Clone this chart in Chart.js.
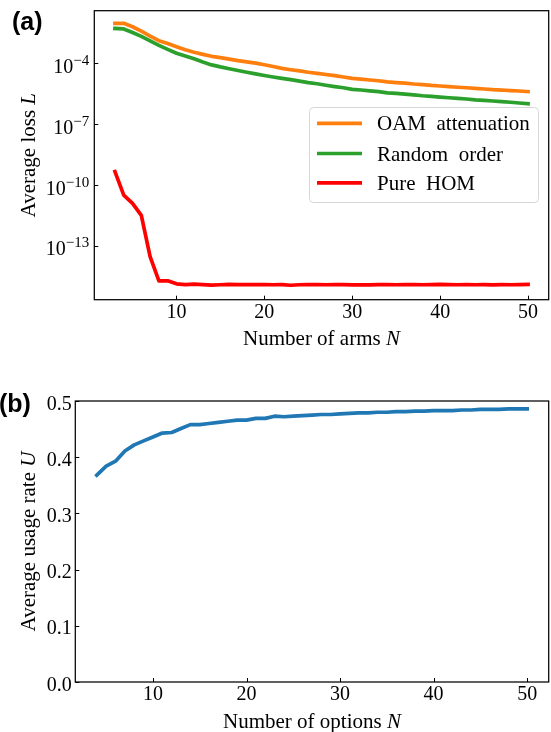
<!DOCTYPE html>
<html>
<head>
<meta charset="utf-8">
<script src="https://cdn.jsdelivr.net/npm/chart.js@4.4.0/dist/chart.umd.min.js"></script>
<style>
  html, body { margin: 0; padding: 0; background: #fff; }
  #wrap { position: relative; width: 551px; height: 732px; overflow: hidden; }
  .panel { position: absolute; left: 0; }
  #panelA { top: 0; }
  #panelB { top: 370px; }
</style>
</head>
<body>
<div id="wrap">
  <div class="panel" id="panelA"><canvas id="lossChart" width="551" height="350"></canvas></div>
  <div class="panel" id="panelB"><canvas id="usageChart" width="551" height="362"></canvas></div>
</div>
<script>
// ---- data ----
const nArms = [3, 4, 5, 6, 7, 8, 9, 10, 11, 12, 13, 14, 15, 16, 17, 18, 19, 20, 21, 22, 23, 24, 25, 26,
               27, 28, 29, 30, 31, 32, 33, 34, 35, 36, 37, 38, 39, 40, 41, 42, 43, 44, 45, 46, 47, 48, 49, 50];

const lossOAM = [9.3e-3, 9.3e-3, 6.3e-3, 3.8e-3, 2.2e-3, 1.3e-3, 9.3e-4, 6.5e-4, 4.6e-4, 3.5e-4, 2.75e-4, 2.2e-4,
                 1.9e-4, 1.6e-4, 1.35e-4, 1.17e-4, 1.02e-4, 8.5e-5, 6.9e-5, 5.6e-5, 4.8e-5, 4.2e-5, 3.6e-5, 3.2e-5,
                 2.8e-5, 2.45e-5, 2.1e-5, 1.8e-5, 1.66e-5, 1.5e-5, 1.38e-5, 1.2e-5, 1.12e-5, 1.05e-5, 9.5e-6, 8.9e-6,
                 8.1e-6, 7.6e-6, 7.1e-6, 6.6e-6, 6.2e-6, 5.8e-6, 5.4e-6, 5.0e-6, 4.8e-6, 4.5e-6, 4.3e-6, 4.0e-6];

const lossRandom = [5.2e-3, 4.9e-3, 3.3e-3, 2.1e-3, 1.26e-3, 7.6e-4, 4.8e-4, 3.1e-4, 2.3e-4, 1.66e-4, 1.15e-4, 8.3e-5,
                    6.6e-5, 5.4e-5, 4.4e-5, 3.6e-5, 3.0e-5, 2.5e-5, 2.1e-5, 1.8e-5, 1.55e-5, 1.32e-5, 1.12e-5, 9.8e-6,
                    8.3e-6, 7.1e-6, 6.2e-6, 5.2e-6, 4.8e-6, 4.4e-6, 4.0e-6, 3.5e-6, 3.3e-6, 3.0e-6, 2.75e-6, 2.5e-6,
                    2.35e-6, 2.15e-6, 2.0e-6, 1.86e-6, 1.74e-6, 1.58e-6, 1.48e-6, 1.38e-6, 1.29e-6, 1.2e-6, 1.1e-6, 1.02e-6];

const lossPureHOM = [4.6e-10, 3.2e-11, 1.26e-11, 3.2e-12, 3.0e-14, 1.9e-15, 1.9e-15, 1.35e-15, 1.25e-15, 1.3e-15, 1.25e-15, 1.18e-15,
                     1.22e-15, 1.26e-15, 1.25e-15, 1.23e-15, 1.24e-15, 1.24e-15, 1.22e-15, 1.24e-15, 1.15e-15, 1.22e-15, 1.25e-15, 1.24e-15,
                     1.22e-15, 1.24e-15, 1.23e-15, 1.21e-15, 1.22e-15, 1.2e-15, 1.23e-15, 1.24e-15, 1.22e-15, 1.24e-15, 1.25e-15, 1.22e-15,
                     1.24e-15, 1.27e-15, 1.25e-15, 1.22e-15, 1.24e-15, 1.22e-15, 1.23e-15, 1.2e-15, 1.24e-15, 1.22e-15, 1.24e-15, 1.26e-15];

const lossLabels = ['OAM attenuation', 'Random order', 'Pure HOM'];
const lossColors = ['#ff7f0e', '#2ca02c', '#ff0000'];

const nOptions = [4, 5, 6, 7, 8, 9, 10, 11, 12, 13, 14, 15, 16, 17, 18, 19, 20, 21, 22, 23, 24, 25, 26, 27,
                  28, 29, 30, 31, 32, 33, 34, 35, 36, 37, 38, 39, 40, 41, 42, 43, 44, 45, 46, 47, 48, 49, 50];

const usageRate = [0.368, 0.384, 0.393, 0.411, 0.422, 0.429, 0.436, 0.443, 0.444, 0.451, 0.458, 0.458,
                   0.460, 0.462, 0.464, 0.466, 0.466, 0.469, 0.469, 0.473, 0.472, 0.473, 0.474, 0.475,
                   0.476, 0.476, 0.477, 0.478, 0.479, 0.479, 0.480, 0.480, 0.481, 0.481, 0.482, 0.482,
                   0.483, 0.483, 0.483, 0.484, 0.484, 0.485, 0.485, 0.485, 0.486, 0.486, 0.486];

const xTickVals = [10, 20, 30, 40, 50];
const lossTickExp = [-4, -7, -10, -13];
const usageTickVals = [0.0, 0.1, 0.2, 0.3, 0.4, 0.5];

const SERIF = "'Liberation Serif', 'Times New Roman', serif";
const SANS = "'Liberation Sans', Arial, sans-serif";

// ---- drawing helpers (text, frame, inward ticks) ----
function drawFrame(chart, xTicks, yPixels) {
    const ctx = chart.ctx, a = chart.chartArea, xs = chart.scales.x;
    ctx.save();
    ctx.strokeStyle = '#000';
    ctx.lineWidth = 1.25;
    ctx.strokeRect(a.left, a.top, a.right - a.left, a.bottom - a.top);
    ctx.lineWidth = 1;
    ctx.beginPath();
    xTicks.forEach(function (v) {
        const px = Math.round(xs.getPixelForValue(v)) + 0.5;
        ctx.moveTo(px, a.bottom);
        ctx.lineTo(px, a.bottom - 4);
    });
    yPixels.forEach(function (py) {
        py = Math.round(py) + 0.5;
        ctx.moveTo(a.left, py);
        ctx.lineTo(a.left + 4, py);
    });
    ctx.stroke();
    ctx.restore();
}

function drawXLabels(chart, xTicks, title) {
    const ctx = chart.ctx, a = chart.chartArea, xs = chart.scales.x;
    ctx.save();
    ctx.fillStyle = '#000';
    ctx.font = '20px ' + SERIF;
    ctx.textAlign = 'center';
    ctx.textBaseline = 'alphabetic';
    xTicks.forEach(function (v) {
        ctx.fillText(String(v), xs.getPixelForValue(v), a.bottom + 17.8);
    });
    drawMixed(ctx, title, (a.left + a.right) / 2, a.bottom + 45.5);
    ctx.restore();
}

// parts: [[text, italic], ...] centred on x
function drawMixed(ctx, parts, cx, baseline) {
    let total = 0;
    const widths = parts.map(function (p) {
        ctx.font = (p[1] ? 'italic ' : '') + '21px ' + SERIF;
        const w = ctx.measureText(p[0]).width;
        total += w;
        return w;
    });
    let x = cx - total / 2;
    ctx.textAlign = 'left';
    parts.forEach(function (p, i) {
        ctx.font = (p[1] ? 'italic ' : '') + '21px ' + SERIF;
        ctx.fillText(p[0], x, baseline);
        x += widths[i];
    });
}

function drawYTitle(chart, parts, baseX) {
    const ctx = chart.ctx, a = chart.chartArea;
    ctx.save();
    ctx.fillStyle = '#000';
    ctx.translate(baseX, (a.top + a.bottom) / 2);
    ctx.rotate(-Math.PI / 2);
    drawMixed(ctx, parts, 0, 0);
    ctx.restore();
}

const lossPlugin = {
    id: 'lossDecor',
    afterDraw: function (chart) {
        const ctx = chart.ctx, a = chart.chartArea, ys = chart.scales.y;
        const yPix = lossTickExp.map(function (e) { return ys.getPixelForValue(Math.pow(10, e)); });
        drawFrame(chart, xTickVals, yPix);
        drawXLabels(chart, xTickVals, [['Number of arms ', false], ['N', true]]);

        // log tick labels 10^e
        ctx.save();
        ctx.fillStyle = '#000';
        ctx.textAlign = 'left';
        lossTickExp.forEach(function (e, i) {
            const sup = '\u2212' + Math.abs(e);
            ctx.font = '15px ' + SERIF;
            const wSup = ctx.measureText(sup).width;
            ctx.font = '20px ' + SERIF;
            const wBase = ctx.measureText('10').width;
            const right = a.left - 5;
            ctx.fillText('10', right - wSup - wBase, yPix[i] + 9.5);
            ctx.font = '15px ' + SERIF;
            ctx.fillText(sup, right - wSup, yPix[i] + 1.5);
        });
        ctx.restore();

        drawYTitle(chart, [['Average loss ', false], ['L', true]], 35);

        // legend box in the upper right
        ctx.save();
        ctx.beginPath();
        ctx.roundRect(309.5, 107.5, 229, 95, 4);
        ctx.fillStyle = 'rgba(255,255,255,0.8)';
        ctx.fill();
        ctx.strokeStyle = '#d6d6d6';
        ctx.lineWidth = 1;
        ctx.stroke();
        const rows = [123.3, 153.5, 182.8];
        chart.data.datasets.forEach(function (ds, i) {
            ctx.strokeStyle = ds.borderColor;
            ctx.lineWidth = 3.7;
            ctx.beginPath();
            ctx.moveTo(317, rows[i]);
            ctx.lineTo(362, rows[i]);
            ctx.stroke();
            ctx.fillStyle = '#000';
            ctx.font = '21px ' + SERIF;
            ctx.textAlign = 'left';
            ctx.fillText(ds.label.replace(' ', '\u2002'), 377, rows[i] + 7);
        });
        ctx.restore();

        ctx.save();
        ctx.fillStyle = '#000';
        ctx.font = 'bold 25px ' + SANS;
        ctx.fillText('(a)', 12, 30);
        ctx.restore();
    }
};

const usagePlugin = {
    id: 'usageDecor',
    afterDraw: function (chart) {
        const ctx = chart.ctx, a = chart.chartArea, ys = chart.scales.y;
        const yPix = usageTickVals.map(function (v) { return ys.getPixelForValue(v); });
        drawFrame(chart, xTickVals, yPix);
        drawXLabels(chart, xTickVals, [['Number of options ', false], ['N', true]]);

        ctx.save();
        ctx.fillStyle = '#000';
        ctx.font = '20px ' + SERIF;
        ctx.textAlign = 'right';
        usageTickVals.forEach(function (v, i) {
            ctx.fillText(v.toFixed(1), a.left - 3.5, yPix[i] + 8.5);
        });
        ctx.restore();

        drawYTitle(chart, [['Average usage rate ', false], ['U', true]], 35);

        ctx.save();
        ctx.fillStyle = '#000';
        ctx.font = 'bold 25px ' + SANS;
        ctx.fillText('(b)', -1, 42);
        ctx.restore();
    }
};

function hiddenScale(extra) {
    return Object.assign({
        grid: { display: false },
        border: { display: false },
        ticks: { display: false },
        title: { display: false }
    }, extra);
}

function initLossChart() {
    const ctx = document.getElementById('lossChart').getContext('2d');
    const series = [lossOAM, lossRandom, lossPureHOM];
    new Chart(ctx, {
        type: 'line',
        data: {
            datasets: series.map(function (vals, i) {
                return {
                    label: lossLabels[i],
                    data: nArms.map(function (n, j) { return { x: n, y: vals[j] }; }),
                    borderColor: lossColors[i],
                    borderWidth: 3.7,
                    borderCapStyle: 'square',
                    borderJoinStyle: 'round',
                    pointRadius: 0,
                    tension: 0,
                    fill: false
                };
            })
        },
        options: {
            responsive: false,
            animation: false,
            layout: { padding: { top: 10.7, right: 2.3, left: 0, bottom: 0 } },
            plugins: { legend: { display: false }, tooltip: { enabled: false } },
            scales: {
                x: hiddenScale({
                    type: 'linear', min: 0.65, max: 52.35,
                    afterFit: function (s) { s.height = 50.3; }
                }),
                y: hiddenScale({
                    type: 'logarithmic', min: Math.pow(10, -15.65), max: Math.pow(10, -1.41),
                    afterFit: function (s) { s.width = 94.3; }
                })
            }
        },
        plugins: [lossPlugin]
    });
}

function initUsageChart() {
    const ctx = document.getElementById('usageChart').getContext('2d');
    new Chart(ctx, {
        type: 'line',
        data: {
            datasets: [{
                label: 'usage',
                data: nOptions.map(function (n, j) { return { x: n, y: usageRate[j] }; }),
                borderColor: '#1f77b4',
                borderWidth: 3.7,
                borderCapStyle: 'square',
                borderJoinStyle: 'round',
                pointRadius: 0,
                tension: 0,
                fill: false
            }]
        },
        options: {
            responsive: false,
            animation: false,
            layout: { padding: { top: 31, right: 2.3, left: 0, bottom: 0 } },
            plugins: { legend: { display: false }, tooltip: { enabled: false } },
            scales: {
                x: hiddenScale({
                    type: 'linear', min: 1.7, max: 52.3,
                    afterFit: function (s) { s.height = 50; }
                }),
                y: hiddenScale({
                    type: 'linear', min: 0, max: 0.5,
                    afterFit: function (s) { s.width = 75.3; }
                })
            }
        },
        plugins: [usagePlugin]
    });
}

initLossChart();
initUsageChart();
</script>
</body>
</html>
